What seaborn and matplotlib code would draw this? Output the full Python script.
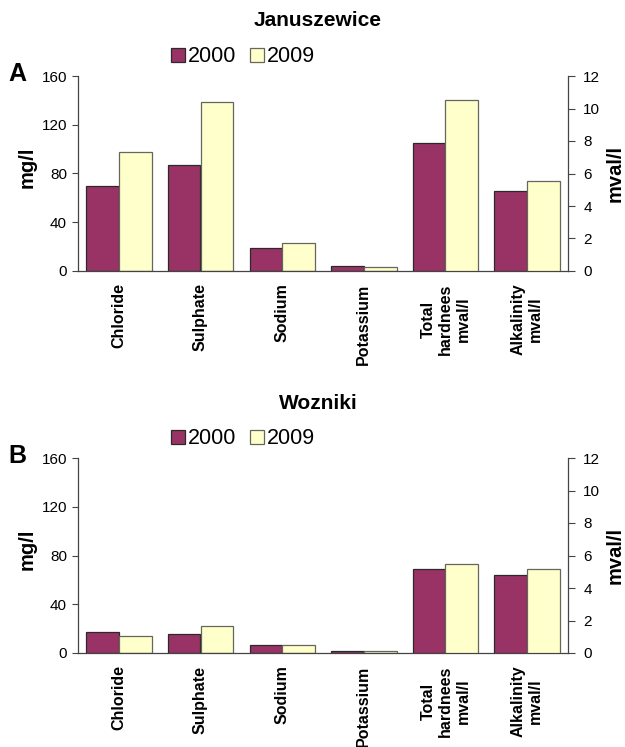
import numpy as np
import pandas as pd
import matplotlib
matplotlib.use('Agg')
import matplotlib.pyplot as plt
from matplotlib.patches import Patch
import seaborn as sns

params_mg = ['Chloride', 'Sulphate', 'Sodium', 'Potassium']
params_mval = ['Total\nhardnees\nmval/l', 'Alkalinity\nmval/l']
categories = params_mg + params_mval
years = ['2000', '2009']

# Januszewice (mg/l on left axis, mval/l on right axis)
janusz_mg_2000 = [70, 87, 18.5, 4.2]
janusz_mg_2009 = [98, 139, 23, 3.3]
janusz_mval_2000 = [7.9, 4.95]
janusz_mval_2009 = [10.5, 5.55]

# Wozniki
wozn_mg_2000 = [17.5, 16, 6.3, 1.6]
wozn_mg_2009 = [13.7, 22, 6.3, 1.9]
wozn_mval_2000 = [5.15, 4.82]
wozn_mval_2009 = [5.45, 5.15]

colors = {'2000': '#993366', '2009': '#FFFFCC'}
edges = {'2000': '#2a2a2a', '2009': '#66665a'}
spine_c = '#444444'


def long_df(params, v2000, v2009):
    rows = []
    for p, a, b in zip(params, v2000, v2009):
        rows.append({'param': p, 'year': '2000', 'value': a})
        rows.append({'param': p, 'year': '2009', 'value': b})
    return pd.DataFrame(rows)


def bars(a, df):
    sns.barplot(data=df, x='param', y='value', hue='year', order=categories,
                hue_order=years, palette=colors, saturation=1, width=0.8,
                linewidth=0.9, ax=a, legend=False)
    for cont, y in zip(a.containers, years):
        for b in cont:
            b.set_edgecolor(edges[y])


def panel(fig, rect, title, letter, mg00, mg09, mv00, mv09, title_y, leg_y, letter_y):
    ax = fig.add_axes(rect)
    ax2 = ax.twinx()
    bars(ax, long_df(params_mg, mg00, mg09))
    bars(ax2, long_df(params_mval, mv00, mv09))

    ax.set_xlim(-0.5, 5.5)
    ax.set_ylim(0, 160)
    ax2.set_ylim(0, 12)
    ax.set_yticks(range(0, 161, 40))
    ax2.set_yticks(range(0, 13, 2))
    ax.set_xlabel('')
    ax.set_ylabel('')
    ax2.set_ylabel('')

    # ticks at category boundaries, labels in the middle
    ax.set_xticks(np.arange(-0.5, 6, 1))
    ax.set_xticklabels([])
    ax.set_xticks(range(6), minor=True)
    ax.set_xticklabels(categories, minor=True, rotation=90, fontweight='bold',
                       fontsize=11.5, va='top', ha='center', multialignment='center')
    ax.tick_params(axis='x', which='major', direction='inout', length=8, width=0.8, color=spine_c)
    ax.tick_params(axis='x', which='minor', length=0, pad=9)
    ax.tick_params(axis='y', direction='out', length=4, width=0.8, color=spine_c, labelsize=11, pad=4)
    ax2.tick_params(axis='y', direction='out', length=5, width=0.8, color=spine_c, labelsize=11, pad=6)

    for s in ['top', 'right']:
        ax.spines[s].set_visible(False)
    for s in ['top', 'left', 'bottom']:
        ax2.spines[s].set_visible(False)
    for a, s in [(ax, 'left'), (ax, 'bottom'), (ax2, 'right')]:
        a.spines[s].set_color(spine_c)
        a.spines[s].set_linewidth(0.9)

    fig.text(318 / 625, 1 - title_y / 747, title, ha='center', va='center',
             fontsize=15, fontweight='bold')
    fig.text(17 / 625, 1 - letter_y / 747, letter, ha='center', va='center',
             fontsize=18, fontweight='bold')
    top = (1 - rect[1] - rect[3]) * 747
    fig.text(27 / 625, 1 - (top + 91) / 747, 'mg/l', rotation=90, ha='center', va='center',
             fontsize=14.5, fontweight='bold')
    fig.text(615 / 625, 1 - (top + 98) / 747, 'mval/l', rotation=90, ha='center', va='center',
             fontsize=14.5, fontweight='bold')

    handles = [Patch(facecolor=colors[y], edgecolor=edges[y], linewidth=0.9) for y in years]
    fig.legend(handles, years, loc='center', bbox_to_anchor=(243 / 625, 1 - leg_y / 747),
               ncol=2, frameon=False, fontsize=15.5, handlelength=0.65, handleheight=0.65,
               handletextpad=0.15, columnspacing=0.6, borderpad=0, borderaxespad=0)
    return ax, ax2


sns.set_style('white')
plt.rcParams['font.family'] = ['Liberation Sans', 'DejaVu Sans']
plt.rcParams['text.color'] = 'black'
plt.rcParams['xtick.color'] = 'black'
plt.rcParams['ytick.color'] = 'black'

fig = plt.figure(figsize=(6.25, 7.47), dpi=100)
panel(fig, [78 / 625, 476 / 747, 490 / 625, 195 / 747], 'Januszewice', 'A',
      janusz_mg_2000, janusz_mg_2009, janusz_mval_2000, janusz_mval_2009, 20, 57, 74)
panel(fig, [78 / 625, 94 / 747, 490 / 625, 195 / 747], 'Wozniki', 'B',
      wozn_mg_2000, wozn_mg_2009, wozn_mval_2000, wozn_mval_2009, 403, 439, 456)

fig.savefig('out.png', dpi=100)
